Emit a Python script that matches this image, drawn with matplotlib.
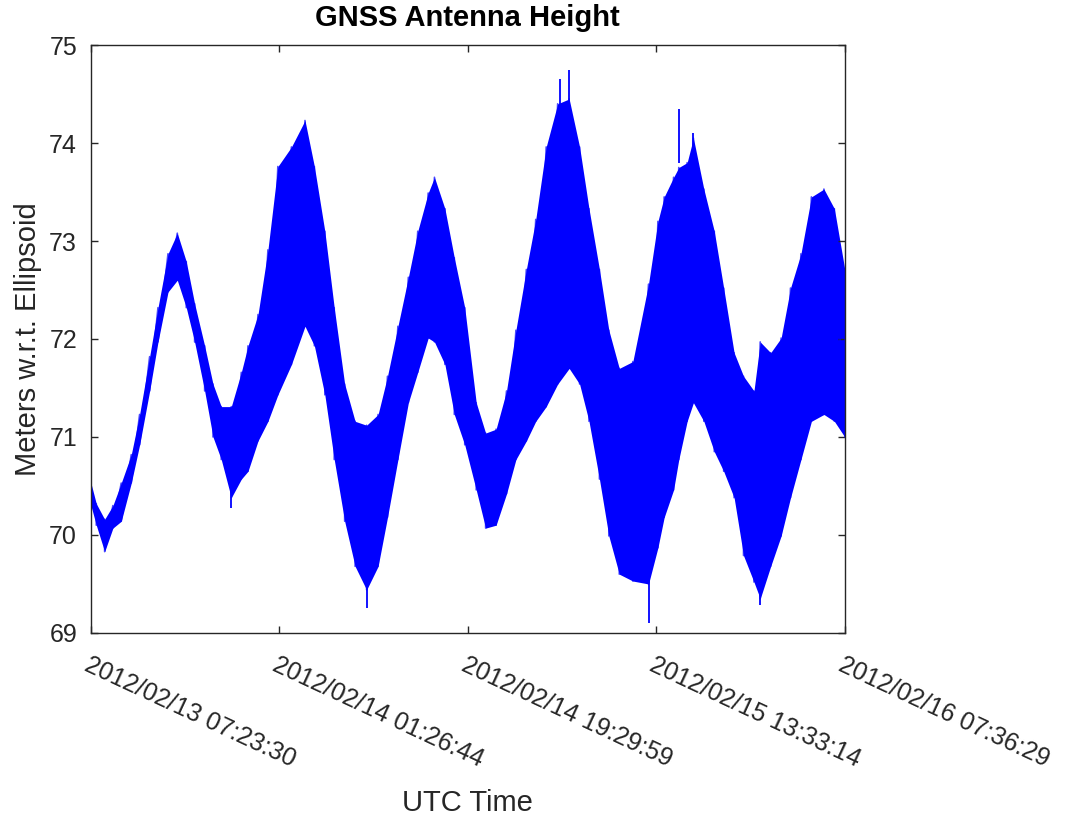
import datetime as dt
import matplotlib
matplotlib.use('Agg')
import matplotlib.pyplot as plt

# envelope of the antenna height (hours after start)
hours = [0.0, 0.51, 1.31, 2.1, 2.9, 3.86, 4.66, 5.62, 6.42, 7.38, 8.27, 9.13, 9.93,
         10.89, 11.69, 12.48, 13.44, 14.4, 15.04, 16.0, 16.95, 17.9,
         19.2, 20.5, 21.4, 22.4, 23.3, 24.3, 25.3, 26.4, 27.5, 28.4, 29.4, 30.4,
         31.3, 32.3, 32.9, 33.9, 34.8, 35.8,
         36.9, 37.8, 38.8, 39.8, 40.7, 41.7, 42.6, 43.6, 44.7, 45.8, 46.8, 47.7,
         48.7, 49.6, 50.6, 51.9, 53.4,
         54.3, 54.9, 55.8, 56.3, 57.1, 57.7, 58.7, 59.7, 60.6, 61.6, 62.5, 63.5,
         64.1, 65.1, 66.1, 67.0, 68.0, 69.0, 70.2, 71.2, 72.2]
upper = [70.53, 70.32, 70.16, 70.30, 70.53, 70.82, 71.23, 71.82, 72.32, 72.87, 73.08,
         72.79, 72.36, 71.93, 71.54, 71.31, 71.31, 71.66, 71.93, 72.25, 72.91, 73.76,
         73.96, 74.23, 73.76, 73.10, 72.32, 71.54, 71.16, 71.12, 71.23, 71.62, 72.13,
         72.63, 73.10, 73.49, 73.65, 73.33, 72.83, 72.32,
         71.35, 71.04, 71.08, 71.47, 72.09, 72.71, 73.22, 73.96, 74.40, 74.45, 73.96,
         73.33, 72.71, 72.09, 71.70, 71.77, 72.56,
         73.20, 73.45, 73.65, 73.75, 73.80, 74.05, 73.53, 73.10, 72.52, 71.86, 71.62,
         71.47, 71.97, 71.86, 72.01, 72.52, 72.87, 73.45, 73.53, 73.33, 72.71]
lower = [70.30, 70.10, 69.83, 70.07, 70.14, 70.53, 70.92, 71.47, 71.97, 72.48, 72.60,
         72.32, 71.97, 71.47, 71.00, 70.77, 70.38, 70.57, 70.65, 70.96, 71.16, 71.43,
         71.74, 72.13, 71.93, 71.43, 70.77, 70.14, 69.68, 69.44, 69.68, 70.18, 70.77,
         71.35, 71.66, 72.01, 71.97, 71.74, 71.23, 70.92,
         70.46, 70.07, 70.10, 70.42, 70.77, 70.96, 71.16, 71.31, 71.54, 71.70, 71.54,
         71.16, 70.57, 69.99, 69.60, 69.53, 69.50,
         69.87, 70.18, 70.46, 70.77, 71.16, 71.35, 71.16, 70.85, 70.65, 70.38, 69.79,
         69.52, 69.35, 69.68, 69.99, 70.38, 70.77, 71.16, 71.23, 71.16, 71.00]

# isolated spikes standing out of the band
spike_hours = [13.44, 26.4, 44.9, 45.8, 53.4, 56.3, 57.7, 64.1]
spike_base = [70.45, 69.5, 74.3, 74.4, 69.55, 73.8, 73.95, 69.4]
spike_tip = [70.28, 69.25, 74.65, 74.74, 69.10, 74.35, 74.10, 69.29]

tick_labels = ['2012/02/13 07:23:30', '2012/02/14 01:26:44', '2012/02/14 19:29:59',
               '2012/02/15 13:33:14', '2012/02/16 07:36:29']

start = dt.datetime(2012, 2, 13, 7, 23, 30)
times = [start + dt.timedelta(hours=h) for h in hours]
spike_times = [start + dt.timedelta(hours=h) for h in spike_hours]
tick_times = [dt.datetime.strptime(s, '%Y/%m/%d %H:%M:%S') for s in tick_labels]

# zigzag between the two envelopes for the noisy look
zz_t, zz_y = [], []
for t, u, l in zip(times, upper, lower):
    zz_t += [t, t]
    zz_y += [u, l]

plt.rcParams['font.family'] = ['Liberation Sans', 'DejaVu Sans']
txt = '#262626'

fig = plt.figure(figsize=(10.65, 8.23), dpi=100)
ax = fig.add_axes([0.0854, 0.2309, 0.708, 0.7144])

ax.fill_between(times, lower, upper, color='#0000ff', lw=0)
ax.plot(zz_t, zz_y, color='#0000ff', lw=1.2, alpha=0.7)
ax.vlines(spike_times, spike_base, spike_tip, color='#0000ff', lw=1.3)

ax.set_xlim(tick_times[0], tick_times[-1])
ax.set_ylim(69, 75)
ax.set_yticks([69, 70, 71, 72, 73, 74, 75])
ax.set_xticks(tick_times)
ax.set_xticklabels(tick_labels, rotation=-25, ha='left', va='top',
                   rotation_mode='anchor')

ax.tick_params(direction='in', top=True, right=True, length=5, width=1,
               labelsize=18, colors=txt)
ax.tick_params(axis='x', pad=14)
ax.tick_params(axis='y', pad=10)
for s in ax.spines.values():
    s.set_color(txt)
    s.set_linewidth(1)

fig.text(0.439, 0.978, 'GNSS Antenna Height', fontsize=21, fontweight='bold',
         ha='center', va='center', color='black')
ax.set_ylabel('Meters w.r.t. Ellipsoid', fontsize=21, color=txt, va='center')
ax.yaxis.set_label_coords(-0.084, 0.5)
fig.text(0.439, 0.024, 'UTC Time', fontsize=21, color=txt, ha='center', va='center')

fig.savefig('out.png', dpi=100)
